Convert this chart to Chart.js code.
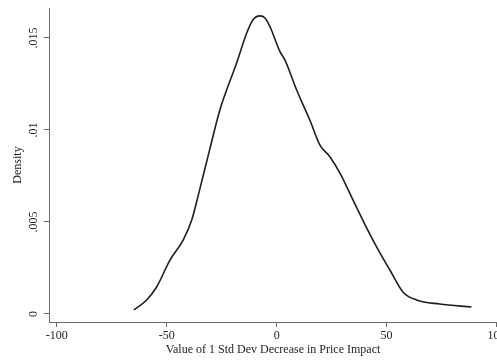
<!DOCTYPE html>
<html>
<head>
<meta charset="utf-8">
<script src="https://cdn.jsdelivr.net/npm/chart.js@4/dist/chart.umd.min.js"></script>
<style>
  html, body { margin: 0; padding: 0; background: #fff; }
  #wrap { width: 497px; height: 360px; position: relative; }
</style>
</head>
<body>
<div id="wrap"><canvas id="kd"></canvas></div>
<script>
// kernel density of the value of a 1 sd decrease in price impact
const valueX   = [-64.9, -59.1, -54.5, -48.5, -42.5, -38.6, -34.9, -30.3, -25.8, -18.2, -13.6, -10.8, -7.6, -5.3, -3.0,
                  1.5, 3.8, 9.1, 15.1, 19.7, 24.2, 28.8, 34.7, 40.0, 45.5, 51.5, 57.4, 63.6, 74.2, 88.6];
const densityY = [0.00022, 0.00076, 0.00148, 0.00293, 0.00402, 0.00511, 0.00680, 0.00900, 0.01109, 0.01364, 0.01527, 0.01598, 0.01620, 0.01609, 0.01561,
                  0.01426, 0.01380, 0.01217, 0.01054, 0.00918, 0.00855, 0.00766, 0.00620, 0.00490, 0.00364, 0.00239, 0.00120, 0.00076, 0.00054, 0.00038];

const xTicks = [-100, -50, 0, 50, 100];
const yTicks = [0, 0.005, 0.01, 0.015];
const yTickLabels = ['0', '.005', '.01', '.015'];

const SERIF = '"Liberation Serif", "Times New Roman", serif';
const AXIS  = '#6b6b6b';

// stata-style vertical y tick labels
const rotatedYLabels = {
  id: 'rotatedYLabels',
  afterDraw(chart) {
    const ys = chart.scales.y, ctx = chart.ctx;
    ctx.save();
    ctx.fillStyle = '#222';
    ctx.font = '12px ' + SERIF;
    ctx.textAlign = 'center';
    ctx.textBaseline = 'middle';
    yTicks.forEach((v, i) => {
      const py = ys.getPixelForValue(v);
      ctx.save();
      ctx.translate(ys.right - 15, py);
      ctx.rotate(-Math.PI / 2);
      ctx.fillText(yTickLabels[i], 0, 0);
      ctx.restore();
    });
    ctx.restore();
  }
};

new Chart(document.getElementById('kd'), {
  type: 'line',
  data: {
    datasets: [{
      data: valueX.map((x, i) => ({ x, y: densityY[i] })),
      borderColor: '#1e1e1e',
      borderWidth: 1.6,
      pointRadius: 0,
      fill: false,
      cubicInterpolationMode: 'monotone'
    }]
  },
  options: {
    responsive: true, maintainAspectRatio: false, animation: false,
    layout: { padding: { top: 8, right: 0, left: 0, bottom: 0 } },
    plugins: { legend: { display: false }, tooltip: { enabled: false } },
    scales: {
      x: {
        type: 'linear', min: -103.5, max: 100.2,
        afterBuildTicks: s => { s.ticks = xTicks.map(v => ({ value: v })); },
        afterFit: s => { s.height = 38; s.paddingLeft = 0; s.paddingRight = 0; },
        grid: { drawOnChartArea: false, drawTicks: true, tickLength: 5, color: AXIS },
        border: { color: AXIS, width: 1 },
        ticks: { color: '#222', padding: 2, maxRotation: 0, font: { family: SERIF, size: 12 } },
        title: { display: true, text: 'Value of 1 Std Dev Decrease in Price Impact', color: '#222',
                 padding: { top: 0, bottom: 3 }, font: { family: SERIF, size: 12 } }
      },
      y: {
        type: 'linear', min: -0.000435, max: 0.01663,
        afterBuildTicks: s => { s.ticks = yTicks.map(v => ({ value: v })); },
        afterFit: s => { s.width = 49; },
        grid: { drawOnChartArea: false, drawTicks: true, tickLength: 5, color: AXIS },
        border: { color: AXIS, width: 1 },
        ticks: { display: false },
        title: { display: true, text: 'Density', color: '#222',
                 padding: { top: 11, bottom: 0 }, font: { family: SERIF, size: 12 } }
      }
    }
  },
  plugins: [rotatedYLabels]
});
</script>
</body>
</html>
